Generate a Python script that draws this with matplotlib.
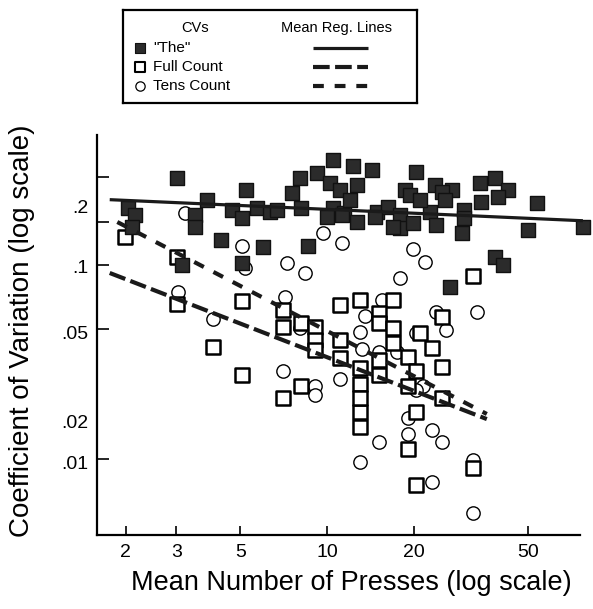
import matplotlib.pyplot as plt
from matplotlib.ticker import FixedLocator, FixedFormatter, NullFormatter

plt.rcParams['font.family'] = ['Liberation Sans', 'DejaVu Sans']

# CVs for "The" (filled squares)
the_x = [2.04, 2.15, 2.10, 3.01, 3.82, 3.48, 3.48, 4.27, 5.23, 4.67,
         5.06, 5.70, 6.34, 6.01, 5.06, 3.13, 8.06, 7.54, 8.12, 8.61,
         9.21, 10.5, 10.24, 11.1, 10.5, 11.46, 12.34, 14.3, 12.68, 11.3,
         12.68, 14.88, 16.3, 17.9, 18.7, 20.4, 19.4, 17.9, 19.9, 22.8,
         23.9, 23.7, 27.1, 25.1, 29.4, 30.0, 29.9, 34.0, 38.3, 42.6,
         34.4, 39.3, 53.5, 50.0, 38.3, 40.9, 26.7, 77.6,
         6.69, 9.97, 17.0, 14.68, 12.02, 21.0, 25.7]
the_y = [0.196, 0.181, 0.157, 0.279, 0.216, 0.181, 0.157, 0.1345, 0.243, 0.192,
         0.174, 0.196, 0.188, 0.1234, 0.102, 0.100, 0.279, 0.234, 0.196, 0.1247,
         0.296, 0.347, 0.263, 0.243, 0.196, 0.1845, 0.323, 0.308, 0.258, 0.181,
         0.167, 0.188, 0.200, 0.181, 0.243, 0.302, 0.229, 0.1545, 0.164, 0.188,
         0.161, 0.258, 0.243, 0.238, 0.1456, 0.192, 0.174, 0.263, 0.279, 0.243,
         0.212, 0.225, 0.208, 0.151, 0.1103, 0.100, 0.0773, 0.157,
         0.192, 0.177, 0.157, 0.177, 0.216, 0.216, 0.216]

# CVs for Full Count (open squares)
full_x = [1.99, 3.01, 3.01, 5.06, 7.05, 7.05, 8.12, 9.08, 9.08, 9.08,
          11.1, 11.1, 11.1, 4.03, 5.06, 8.12, 7.05, 13.0, 17.0, 15.1,
          15.1, 17.0, 17.0, 21.0, 23.2, 25.1, 13.0, 13.0, 13.0, 13.0,
          15.1, 15.1, 19.1, 20.4, 19.1, 25.1, 25.1, 20.4, 19.1, 20.4,
          32.1, 32.1, 13.0]
full_y = [0.140, 0.1103, 0.0627, 0.0655, 0.0584, 0.0481, 0.0501, 0.0481, 0.0411, 0.0365,
          0.0619, 0.0411, 0.0331, 0.0380, 0.0272, 0.0239, 0.0206, 0.0660, 0.0660, 0.0564,
          0.0501, 0.0472, 0.0395, 0.0445, 0.0373, 0.0538, 0.0296, 0.0243, 0.0176, 0.0147,
          0.0324, 0.0272, 0.0337, 0.0285, 0.0239, 0.0298, 0.0206, 0.0176, 0.01126, 0.00737,
          0.0090, 0.0874, 0.0206]

# CVs for Tens Count (open circles)
tens_x = [3.21, 5.06, 5.19, 7.25, 8.39, 9.71, 11.3, 3.05, 4.03, 7.15,
          8.06, 7.05, 9.08, 9.08, 11.1, 15.5, 13.5, 13.0, 13.2, 15.1,
          17.5, 20.4, 26.0, 23.9, 33.1, 21.6, 20.4, 19.1, 19.1, 23.2,
          25.1, 15.1, 13.0, 23.2, 32.1, 32.1, 17.9, 19.9, 21.9]
tens_y = [0.1845, 0.1247, 0.0962, 0.102, 0.0913, 0.1456, 0.1293, 0.0725, 0.0528, 0.0684,
          0.0472, 0.0285, 0.0239, 0.0214, 0.0258, 0.0663, 0.0547, 0.0454, 0.0368, 0.0355,
          0.0355, 0.0445, 0.0463, 0.0571, 0.0571, 0.0239, 0.0227, 0.0163, 0.0135, 0.0142,
          0.0122, 0.0122, 0.0097, 0.0076, 0.0099, 0.00527, 0.0854, 0.1204, 0.104]

# mean regression lines (end points)
the_line_x, the_line_y = [1.76, 77.4], [0.217, 0.169]
full_line_x, full_line_y = [1.76, 35.9], [0.091, 0.0161]
tens_line_x, tens_line_y = [1.87, 35.9], [0.1665, 0.0171]

x_ticks = [2, 3, 5, 10, 20, 50]
y_tick_marks = [0.283, 0.167, 0.1, 0.0467, 0.01]
y_label_pos = [0.201, 0.0977, 0.0447, 0.0156, 0.00957]
y_labels = ['.2', '.1', '.05', '.02', '.01']

fig = plt.figure(figsize=(5.93, 6.09), dpi=100)
ax = fig.add_axes([0.1636, 0.1207, 0.8144, 0.6576])

ax.scatter(tens_x, tens_y, s=92, marker='o', facecolor='white',
           edgecolor='black', linewidth=1.0, zorder=2, clip_on=False)
ax.scatter(full_x, full_y, s=100, marker='s', facecolor='white',
           edgecolor='black', linewidth=1.8, zorder=3, clip_on=False)
ax.scatter(the_x, the_y, s=100, marker='s', facecolor='#2b2b2b',
           edgecolor='#111111', linewidth=1.0, zorder=4, clip_on=False)

ax.plot(the_line_x, the_line_y, color='#1a1a1a', lw=2.3, zorder=5,
        solid_capstyle='butt', clip_on=False)
ax.plot(full_line_x, full_line_y, color='#1a1a1a', lw=3.0, zorder=5,
        linestyle=(0, (4.0, 1.3)))
ax.plot(tens_line_x, tens_line_y, color='#1a1a1a', lw=3.0, zorder=5,
        linestyle=(0, (2.6, 2.6)))

ax.set_xscale('log')
ax.set_yscale('log')
ax.set_xlim(1.59, 75.6)
ax.set_ylim(0.00405, 0.467)

ax.xaxis.set_major_locator(FixedLocator(x_ticks))
ax.xaxis.set_major_formatter(FixedFormatter([str(t) for t in x_ticks]))
ax.xaxis.set_minor_locator(FixedLocator([]))

ax.yaxis.set_major_locator(FixedLocator(y_tick_marks))
ax.yaxis.set_major_formatter(NullFormatter())
ax.yaxis.set_minor_locator(FixedLocator(y_label_pos))
ax.yaxis.set_minor_formatter(FixedFormatter(y_labels))

ax.tick_params(axis='x', which='major', direction='in', length=6.5, width=1.2,
               labelsize=14, pad=6)
ax.tick_params(axis='y', which='major', direction='in', length=8.6, width=1.2)
ax.tick_params(axis='y', which='minor', length=0, labelsize=14, pad=6)

for side in ['top', 'right']:
    ax.spines[side].set_visible(False)
for side in ['left', 'bottom']:
    ax.spines[side].set_linewidth(1.6)

ax.set_xlabel('Mean Number of Presses (log scale)', fontsize=19.5)
ax.xaxis.set_label_coords(0.526, -0.085)
ax.set_ylabel('Coefficient of Variation (log scale)', fontsize=20)
ax.yaxis.set_label_coords(-0.128, 0.51)

# legend box
lg = fig.add_axes([0.2074, 0.8309, 0.4958, 0.1527])
lg.set_xlim(0, 294)
lg.set_ylim(93, 0)
lg.set_xticks([])
lg.set_yticks([])
for s in lg.spines.values():
    s.set_linewidth(1.6)
fs = 10.5
lg.text(72, 18, 'CVs', ha='center', va='center', fontsize=fs)
lg.text(214, 18, 'Mean Reg. Lines', ha='center', va='center', fontsize=fs)
rows = [('"The"', 38), ('Full Count', 57), ('Tens Count', 76)]
lg.scatter([17], [38], s=45, marker='s', facecolor='#2b2b2b', edgecolor='#111111', lw=0.8)
lg.scatter([17], [57], s=45, marker='s', facecolor='white', edgecolor='black', lw=1.5)
lg.scatter([17], [76], s=45, marker='o', facecolor='white', edgecolor='black', lw=0.9)
for label, yy in rows:
    lg.text(30, yy, label, ha='left', va='center', fontsize=11)
lg.plot([190, 245], [38, 38], color='#1a1a1a', lw=2.3, solid_capstyle='butt')
lg.plot([190, 245], [57, 57], color='#1a1a1a', lw=3.0, linestyle=(0, (4.0, 1.3)))
lg.plot([190, 245], [76, 76], color='#1a1a1a', lw=3.0, linestyle=(0, (2.6, 2.6)))

fig.savefig('out.png', dpi=100)
